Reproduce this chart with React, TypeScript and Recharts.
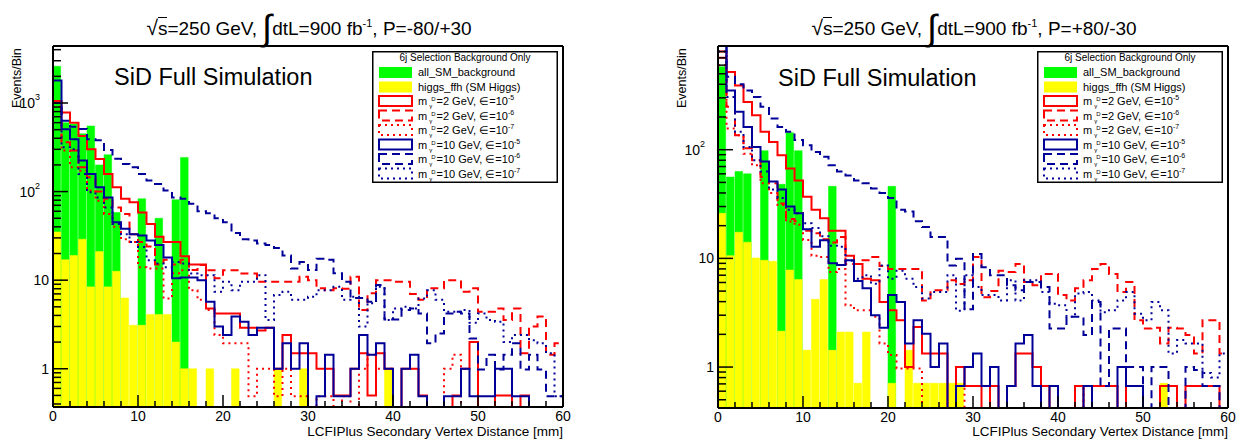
import React from 'react'
import { ComposedChart, Bar, Line, XAxis, YAxis, Legend } from 'recharts'

const FONT = "'Liberation Sans', Arial, Helvetica, sans-serif"
const GREEN = '#00ff00'
const YELLOW = '#ffff00'
const RED = '#ff0000'
const BLUE = '#000099'
// empty bins are pushed below the log axis and clipped, like ROOT does
const EMPTY_BIN = 0.01
const PLOT_W = 510

// 60 bins of 1 mm
const BIN_EDGES = [
  0, 1, 2, 3, 4, 5, 6, 7, 8, 9, 10, 11, 12, 13, 14, 15, 16, 17, 18, 19,
  20, 21, 22, 23, 24, 25, 26, 27, 28, 29, 30, 31, 32, 33, 34, 35, 36, 37, 38, 39,
  40, 41, 42, 43, 44, 45, 46, 47, 48, 49, 50, 51, 52, 53, 54, 55, 56, 57, 58, 59, 60,
]
const BAR_SIZE = PLOT_W / (BIN_EDGES.length - 1)

const X_TICKS = [0, 2, 4, 6, 8, 10, 12, 14, 16, 18, 20, 22, 24, 26, 28, 30, 32, 34, 36, 38, 40, 42, 44, 46, 48, 50, 52, 54, 56, 58, 60]
const LEFT_Y_TICKS = [0.4, 0.5, 0.6, 0.7, 0.8, 0.9, 1, 2, 3, 4, 5, 6, 7, 8, 9, 10, 20, 30, 40, 50, 60, 70, 80, 90, 100, 200, 300, 400, 500, 600, 700, 800, 900, 1000, 2000, 3000, 4000]
const RIGHT_Y_TICKS = [0.5, 0.6, 0.7, 0.8, 0.9, 1, 2, 3, 4, 5, 6, 7, 8, 9, 10, 20, 30, 40, 50, 60, 70, 80, 90, 100, 200, 300, 400, 500, 600, 700, 800, 900]
const Y_LABELS: Record<number, [string, string]> = { 1: ['1', ''], 10: ['10', ''], 100: ['10', '2'], 1000: ['10', '3'] }

const LEFT_Y_DOMAIN: [number, number] = [0.37, 4400]
const RIGHT_Y_DOMAIN: [number, number] = [0.42, 900]

// ---- P=-80/+30 ----
const L_BKG = [
  2600, 600, 580, 450, 550, 200, 260, 58, 0, 0,
  83, 0, 50, 0, 81, 243, 0, 0, 0, 0,
  0, 0, 0, 0, 0, 0, 0, 0, 0, 0,
  0, 0, 0, 0, 0, 0, 0, 0, 0, 0,
  0, 0, 0, 0, 0, 0, 0, 0, 0, 0,
  0, 0, 0, 0, 0, 0, 0, 0, 0, 0,
]
const L_HIGGS = [
  35, 17, 19, 29, 8.4, 21, 8.4, 12.6, 6.3, 3.1,
  3.1, 4.1, 4.1, 4.1, 2.0, 1.0, 1.0, 0, 1.0, 0,
  0, 1.0, 0, 0, 0, 0, 1.0, 0, 0, 1.0,
  0, 0, 0, 0, 0, 0, 0, 0, 0, 1.0,
  0, 0, 0, 0, 0, 0, 0, 0, 0, 0,
  0, 0, 0, 0, 0, 0, 0, 0, 0, 0,
]
const L_M2_E5 = [
  1050, 780, 600, 425, 300, 233, 158, 112, 83, 76,
  58, 43, 31, 27, 27, 18.6, 15, 15, 4.8, 4.2,
  4.2, 4.2, 2.9, 2.9, 2.7, 2.9, 1.0, 2.4, 1.5, 1.5,
  1.5, 1.0, 1.0, 0.5, 0.5, 1.0, 1.5, 0.5, 1.5, 1.0,
  0, 1.0, 1.0, 0.5, 0, 0, 0, 0.5, 1.0, 2.0,
  0, 0, 0.5, 0.5, 0, 0.5, 0, 0, 0, 0,
]
const L_M2_E6 = [
  1000, 360, 290, 188, 145, 100, 83, 66, 56, 33,
  27, 24, 15, 17, 15, 17, 13, 14.8, 12.9, 10.5,
  12.9, 12.9, 11.9, 11.9, 9.6, 9.6, 9.6, 9.6, 9.6, 10.9,
  10, 8.1, 7.7, 8.1, 8, 10.9, 4.6, 7.1, 10, 10,
  9.6, 9.6, 7, 6, 8.1, 8.1, 10, 10, 7.4, 8.1,
  4.4, 4.4, 4.8, 3.55, 4.8, 1.5, 3.0, 3.9, 1.44, 1.94,
]
const L_M2_E7 = [
  900, 290, 188, 172, 103, 79, 56, 40, 29, 27,
  14, 13.5, 13.5, 6.2, 12, 12.9, 7.7, 6, 4.6, 2.4,
  1.94, 1.94, 1.94, 0.49, 1.0, 1.0, 0.49, 1.0, 0.49, 0.49,
  0, 0.49, 0.49, 0, 0.49, 0, 1.0, 1.44, 1.0, 1.0,
  0, 0, 0, 0, 0, 0, 1.0, 1.44, 0, 0,
  0, 0, 0, 0, 0, 0, 0, 0, 0, 0,
]
const L_M10_E5 = [
  1800, 505, 390, 224, 158, 112, 86, 45, 38, 33,
  32, 28, 25, 18, 10.5, 10.7, 10.7, 10, 5.7, 3.0,
  2.4, 3.9, 3.4, 2.4, 2.9, 2.9, 1.0, 1.94, 1.0, 1.94,
  0, 0.49, 1.44, 0.49, 0.49, 1.0, 2.4, 1.44, 1.94, 1.0,
  0, 1.0, 1.44, 0.49, 0, 0, 0.49, 0.49, 1.0, 0.49,
  0.49, 0.49, 1.0, 1.0, 0.49, 0.49, 0, 0, 0, 0,
]
const L_M10_E6 = [
  1000, 630, 540, 510, 390, 380, 295, 235, 205, 188,
  158, 133, 122, 103, 86, 83, 73, 60, 57, 50,
  45, 34, 29, 28, 26, 25, 23, 19, 13.5, 16,
  13, 17.5, 17, 12, 9.6, 6.3, 6.3, 5.7, 8.8, 3.6,
  3.6, 4.6, 4.8, 4.2, 1.94, 2.5, 4.2, 4.4, 4.2, 2.2,
  0.98, 1.44, 0.98, 1.44, 1.94, 0.98, 1.44, 0.98, 0.49, 0.49,
]
const L_M10_E7 = [
  1000, 316, 300, 158, 98, 86, 66, 43, 33, 27,
  23.7, 16.8, 15.4, 14, 16, 15.4, 11.9, 11.4, 11.4, 7.4,
  9.6, 7.7, 9.6, 9.6, 11.4, 3.55, 6.8, 7.4, 6, 6,
  6.5, 7.7, 7.7, 8.4, 6, 6.5, 3.0, 5.5, 8.4, 3.55,
  4.8, 5, 4.8, 6.2, 7.7, 6, 4.4, 4.4, 4.6, 3.3,
  4.2, 3.55, 3.4, 2.0, 2.4, 2.4, 2.1, 1.94, 1.5, 0.49,
]

// ---- P=+80/-30 ----
const R_BKG = [
  580, 56, 63, 60, 0, 98, 0, 48, 143, 98,
  0, 0, 0, 46, 0, 0, 0, 0, 0, 0,
  46, 0, 0, 0, 0, 0, 0, 0, 0, 0,
  0, 0, 0, 0, 0, 0, 0, 0, 0, 0,
  0, 0, 0, 0, 0, 0, 0, 0, 0, 0,
  0, 0, 0, 0, 0, 0, 0, 0, 0, 0,
]
const R_HIGGS = [
  26, 10.6, 17.4, 14.1, 10.1, 9.6, 9.4, 2.14, 7.8, 6.4,
  1.43, 4.2, 6.4, 1.43, 2.1, 2.1, 0.71, 2.1, 0, 0,
  0.71, 0, 1.43, 0.71, 0.71, 0.71, 0.71, 0.71, 0.71, 0,
  0, 0, 0, 0, 0, 0, 0, 0, 0, 0,
  0, 0, 0, 0, 0, 0, 0, 0, 0, 0,
  0, 0, 0.71, 0, 0, 0, 0, 0, 0, 0,
]
const R_M2_E5 = [
  800, 520, 390, 275, 208, 146, 118, 89, 67, 52,
  37, 28, 23.4, 18, 18, 10.6, 8.9, 6.5, 6.3, 3.97,
  3.33, 2.7, 1.0, 2.34, 1.33, 1.33, 1.33, 0, 1.0, 0.67,
  0.67, 0, 0.67, 0, 0.67, 1.33, 1.33, 1.0, 0.67, 0,
  0, 0, 0.67, 0, 0.67, 0.67, 0.67, 0, 0.67, 0.67,
  0, 0, 0.67, 0.67, 0, 0.67, 0.67, 0.67, 0.67, 0,
]
const R_M2_E6 = [
  700, 248, 136, 103, 80, 56, 49, 32, 23, 22,
  18, 17, 15, 14, 15.7, 8.9, 8.9, 9.6, 10.3, 8.5,
  8, 8, 8, 8, 4.1, 5.1, 5.1, 6.3, 5.8, 6.3,
  10.3, 4.4, 5, 7.7, 7.5, 8.9, 6.06, 5.65, 7.2, 7.2,
  4.6, 4.1, 5.3, 6.3, 8.0, 8.9, 7.2, 4.9, 6.06, 2.7,
  2.26, 2.3, 1.65, 2.3, 2.26, 1.97, 1.33, 2.7, 2.7, 1.33,
]
const R_M2_E7 = [
  600, 157, 136, 92, 72, 49, 40, 31, 21.8, 20.4,
  14.8, 10.6, 10.3, 7.5, 8.0, 3.7, 3.33, 3.33, 2.9, 1.65,
  1.29, 0.97, 0.97, 0.97, 0, 0, 0, 0, 0.67, 0,
  0, 0, 0, 0, 0, 0, 0, 0, 0, 0,
  0, 0, 0.67, 0, 0, 0, 0, 0, 0, 0,
  0, 0, 0, 0, 0, 0, 0, 0, 0, 0,
]
const R_M10_E5 = [
  1200, 350, 223, 162, 106, 78, 51, 43, 30, 26,
  18.5, 12.8, 14.7, 9.0, 8.7, 9.6, 6.2, 5.3, 3.0, 2.3,
  4.6, 3.97, 1.65, 2.7, 2.03, 1.0, 1.65, 0, 0.67, 1.0,
  1.33, 0.67, 1.0, 0, 0.67, 1.65, 1.97, 0.67, 0, 0.67,
  0, 0, 0, 0.67, 0, 0, 0, 1.0, 0.67, 0.67,
  0, 0, 0, 0, 0, 0, 0, 0, 0, 0,
]
const R_M10_E6 = [
  1000, 468, 400, 350, 305, 248, 194, 162, 146, 123,
  110, 95, 86, 72, 63, 58, 52, 49, 44, 40,
  36, 28, 27, 22, 19.4, 15.7, 15.7, 8.6, 9.9, 3.4,
  11, 8.3, 7.0, 7.0, 5.65, 5.1, 6.06, 6.06, 5.45, 2.26,
  2.26, 2.9, 2.9, 1.97, 3.97, 0.67, 2.26, 2.26, 1.0, 1.0,
  0, 1.0, 1.0, 0, 0, 1.0, 0.94, 0.67, 0.67, 0,
]
const R_M10_E7 = [
  800, 305, 146, 106, 80, 63, 43, 36, 28, 26,
  21, 19, 16, 13.1, 12.8, 9.5, 6.5, 7.0, 5.85, 8.6,
  6.5, 7.7, 6.5, 5.45, 4.27, 4.9, 4.9, 7.0, 3.3, 7.0,
  5.45, 4.6, 4.6, 4.1, 6.3, 4.1, 6.3, 6.3, 4.9, 3.83,
  3.7, 2.9, 4.74, 4.9, 4.1, 3.2, 3.33, 4.1, 4.9, 3.1,
  2.7, 3.97, 3.33, 1.33, 1.77, 1.65, 1.65, 0.88, 0.8, 1.33,
]

const SIGNALS = [
  { key: 'm2e5', mass: '2', eps: '-5', color: RED, dash: undefined },
  { key: 'm2e6', mass: '2', eps: '-6', color: RED, dash: '8 5' },
  { key: 'm2e7', mass: '2', eps: '-7', color: RED, dash: '2 4' },
  { key: 'm10e5', mass: '10', eps: '-5', color: BLUE, dash: undefined },
  { key: 'm10e6', mass: '10', eps: '-6', color: BLUE, dash: '8 5' },
  { key: 'm10e7', mass: '10', eps: '-7', color: BLUE, dash: '2 4' },
]

function buildRows(bkg: number[], higgs: number[], signals: number[][]) {
  return BIN_EDGES.map((edge, i) => {
    const row: Record<string, number | null> = { edge, center: edge + 0.5 }
    row.bkg = i < bkg.length && bkg[i] > 0 ? bkg[i] : null
    row.higgs = i < higgs.length && higgs[i] > 0 ? higgs[i] : null
    signals.forEach((s, k) => {
      // last edge repeats the last bin so the step closes at 60 mm
      const v = s[Math.min(i, s.length - 1)]
      row[SIGNALS[k].key] = v > 0 ? v : EMPTY_BIN
    })
    return row
  })
}

const LEFT_ROWS = buildRows(L_BKG, L_HIGGS, [L_M2_E5, L_M2_E6, L_M2_E7, L_M10_E5, L_M10_E6, L_M10_E7])
const RIGHT_ROWS = buildRows(R_BKG, R_HIGGS, [R_M2_E5, R_M2_E6, R_M2_E7, R_M10_E5, R_M10_E6, R_M10_E7])

const FRAME = { stroke: '#000', strokeWidth: 2 }

function XTick(props: any) {
  const { x, y, payload } = props
  const major = payload.value % 10 === 0
  return (
    <g>
      <line x1={x} x2={x} y1={y} y2={y - (major ? 12 : 6)} stroke="#000" strokeWidth={1.5} />
      {major && (
        <text x={x} y={y + 14} textAnchor="middle" fontSize={14} fontFamily={FONT} fill="#000">
          {payload.value}
        </text>
      )}
    </g>
  )
}

function YTick(props: any) {
  const { x, y, payload } = props
  const label = Y_LABELS[payload.value]
  return (
    <g>
      <line x1={x} x2={x + (label ? 15 : 8)} y1={y} y2={y} stroke="#000" strokeWidth={1.5} />
      {label && (
        <text x={x - (label[1] ? 13 : 4)} y={y + 5} textAnchor="end" fontSize={14} fontFamily={FONT} fill="#000">
          {label[0]}
          {label[1] && <tspan fontSize={9} dy={-8}>{label[1]}</tspan>}
        </text>
      )}
    </g>
  )
}

function LegendBox() {
  const rowY = (i: number) => 21 + i * 14.5
  return (
    <svg width={186} height={132} style={{ display: 'block', fontFamily: FONT }}>
      <rect x={0.75} y={0.75} width={184.5} height={130.5} fill="#fff" stroke="#000" strokeWidth={1.5} />
      <text x={93} y={10} textAnchor="middle" fontSize={10}>6j Selection Background Only</text>
      <rect x={7} y={rowY(0) - 5} width={33} height={11} fill={GREEN} />
      <text x={46} y={rowY(0) + 4} fontSize={11}>all_SM_background</text>
      <rect x={7} y={rowY(1) - 5} width={33} height={11} fill={YELLOW} />
      <text x={46} y={rowY(1) + 4} fontSize={11}>higgs_ffh (SM Higgs)</text>
      {SIGNALS.map((s, k) => {
        const cy = rowY(k + 2)
        return (
          <g key={s.key}>
            <rect x={7} y={cy - 5} width={33} height={10} fill="none" stroke={s.color} strokeWidth={2} strokeDasharray={s.dash} />
            <text x={46} y={cy + 4} fontSize={11}>
              m
              <tspan fontSize={6} dx={2} dy={3}>γ</tspan>
              <tspan fontSize={6} dx={-1} dy={-7}>D</tspan>
              <tspan dx={1} dy={4}>{`=${s.mass} GeV, ∈=10`}</tspan>
              <tspan fontSize={7} dy={-5}>{s.eps}</tspan>
            </text>
          </g>
        )
      })}
    </svg>
  )
}

type PanelProps = {
  rows: Record<string, number | null>[]
  yDomain: [number, number]
  yTicks: number[]
  margin: { top: number; right: number; bottom: number; left: number }
  legendLeft: number
}

function Panel({ rows, yDomain, yTicks, margin, legendLeft }: PanelProps) {
  return (
    <ComposedChart width={619} height={441} data={rows} margin={margin} barCategoryGap={0} barGap={0}>
      <XAxis
        xAxisId="main" dataKey="edge" type="number" domain={[0, 60]} allowDataOverflow
        ticks={X_TICKS} interval={0} height={1} tickSize={0} tickMargin={0}
        axisLine={FRAME} tickLine={false} tick={(p: any) => <XTick {...p} />}
      />
      <XAxis
        xAxisId="top" orientation="top" dataKey="edge" type="number" domain={[0, 60]} allowDataOverflow
        ticks={X_TICKS} height={1} axisLine={FRAME} tickLine={false} tick={false}
      />
      <YAxis
        scale="log" type="number" domain={yDomain} allowDataOverflow
        ticks={yTicks} interval={0} width={1} tickSize={0} tickMargin={0}
        axisLine={FRAME} tickLine={false} tick={(p: any) => <YTick {...p} />}
      />
      <YAxis
        yAxisId="right" orientation="right" scale="log" type="number" domain={yDomain} allowDataOverflow
        ticks={yTicks} width={1} axisLine={FRAME} tickLine={false} tick={false}
      />
      {/* one hidden x axis per filled histogram so the two overlay instead of sitting side by side */}
      <XAxis xAxisId="bkg" dataKey="center" type="number" domain={[0, 60]} allowDataOverflow height={0} hide />
      <XAxis xAxisId="sig" dataKey="center" type="number" domain={[0, 60]} allowDataOverflow height={0} hide />
      <Bar xAxisId="bkg" dataKey="bkg" fill={GREEN} stroke={GREEN} strokeWidth={0.5} barSize={BAR_SIZE} isAnimationActive={false} />
      <Bar xAxisId="sig" dataKey="higgs" fill={YELLOW} stroke={YELLOW} strokeWidth={0.5} barSize={BAR_SIZE} isAnimationActive={false} />
      {SIGNALS.map((s) => (
        <Line
          key={s.key} xAxisId="main" dataKey={s.key} type="stepAfter"
          stroke={s.color} strokeWidth={2} strokeDasharray={s.dash}
          dot={false} activeDot={false} isAnimationActive={false}
        />
      ))}
      <Legend
        layout="vertical" verticalAlign="middle" align="center"
        content={() => <LegendBox />}
        wrapperStyle={{ left: legendLeft, top: 51, width: 186, height: 132 }}
      />
    </ComposedChart>
  )
}

function Title({ center, pol }: { center: number; pol: string }) {
  return (
    <div style={{ position: 'absolute', left: center - 250, top: 16, width: 500, textAlign: 'center', fontSize: 19, lineHeight: '24px', whiteSpace: 'nowrap' }}>
      <span style={{ fontSize: 21 }}>√</span>
      <span style={{ borderTop: '1.5px solid #000' }}>s</span>
      {'=250 GeV, '}
      <span style={{ fontSize: 36, lineHeight: 0, position: 'relative', top: 5 }}>∫</span>
      {'dtL=900 fb'}
      <span style={{ fontSize: 11, position: 'relative', top: -8 }}>-1</span>
      {`, P=${pol}`}
    </div>
  )
}

function Text({ left, top, size, children, right }: { left: number; top: number; size: number; children: React.ReactNode; right?: boolean }) {
  return (
    <div style={{ position: 'absolute', left: right ? left - 400 : left, top, width: right ? 400 : undefined, textAlign: right ? 'right' : 'left', fontSize: size, lineHeight: `${Math.round(size * 1.2)}px`, whiteSpace: 'nowrap' }}>
      {children}
    </div>
  )
}

function YTitle({ left }: { left: number }) {
  return (
    <div style={{ position: 'absolute', left, top: 108, transform: 'rotate(-90deg)', transformOrigin: '0 0', fontSize: 12.5, lineHeight: '14px', whiteSpace: 'nowrap' }}>
      Events/Bin
    </div>
  )
}

export default function App() {
  return (
    <div style={{ position: 'absolute', left: 0, top: 0, width: 1238, height: 441, background: '#fff', fontFamily: FONT, color: '#000', overflow: 'hidden' }}>
      <div style={{ position: 'absolute', left: 0, top: 0 }}>
        <Panel rows={LEFT_ROWS} yDomain={LEFT_Y_DOMAIN} yTicks={LEFT_Y_TICKS} margin={{ top: 45, right: 55, bottom: 33, left: 52 }} legendLeft={372} />
      </div>
      <div style={{ position: 'absolute', left: 619, top: 0 }}>
        <Panel rows={RIGHT_ROWS} yDomain={RIGHT_Y_DOMAIN} yTicks={RIGHT_Y_TICKS} margin={{ top: 45, right: 9, bottom: 32, left: 98 }} legendLeft={418} />
      </div>
      <Title center={309} pol="-80/+30" />
      <Title center={974} pol="+80/-30" />
      <Text left={114} top={63} size={23.5}>SiD Full Simulation</Text>
      <Text left={778} top={64} size={23.5}>SiD Full Simulation</Text>
      <YTitle left={10} />
      <YTitle left={675} />
      <Text left={563} top={424} size={13.5} right>LCFIPlus Secondary Vertex Distance [mm]</Text>
      <Text left={1228} top={424} size={13.5} right>LCFIPlus Secondary Vertex Distance [mm]</Text>
    </div>
  )
}
